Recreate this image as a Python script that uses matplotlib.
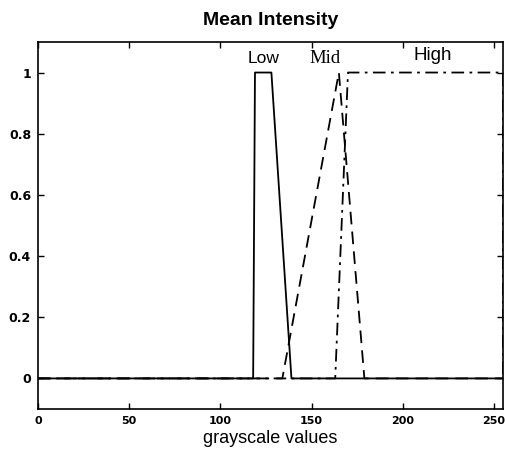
import matplotlib
matplotlib.use('Agg')
import matplotlib.pyplot as plt
import numpy as np

# membership function breakpoints (grayscale, membership)
low_x = [0, 118, 119, 128, 139, 255]
low_y = [0, 0, 1, 1, 0, 0]

mid_x = [0, 134, 165, 179, 255]
mid_y = [0, 0, 1, 0, 0]

high_x = [0, 163, 170, 255, 255]
high_y = [0, 0, 1, 1, 0]

xticks = [0, 50, 100, 150, 200, 250]
yticks = [0, 0.2, 0.4, 0.6, 0.8, 1]
ytick_labels = ['0', '0.2', '0.4', '0.6', '0.8', '1']

# label name, x, y, font family, size
mf_labels = [('Low', 123.5, 1.045, 'Liberation Sans', 12.5),
             ('Mid', 157.5, 1.045, 'Liberation Serif', 13.5),
             ('High', 216.5, 1.055, 'Liberation Sans', 13.5)]

fig = plt.figure(figsize=(5.05, 4.51), dpi=100)
ax = fig.add_axes([0.0752, 0.0931, 0.9208, 0.8139])

ax.plot(low_x, low_y, color='black', lw=1.3, linestyle='-')
ax.plot(mid_x, mid_y, color='black', lw=1.3, linestyle=(0, (7, 4)))
ax.plot(high_x, high_y, color='black', lw=1.3, linestyle=(0, (7, 3, 1.5, 3)))

for name, lx, ly, fam, fs in mf_labels:
    ax.text(lx, ly, name, ha='center', va='center', fontsize=fs, family=fam)

ax.set_xlim(0, 255)
ax.set_ylim(-0.1, 1.1)
ax.set_xticks(xticks)
ax.set_yticks(yticks)
ax.set_yticklabels(ytick_labels)
ax.tick_params(direction='in', top=True, right=True, length=4, width=1, pad=5)
ax.tick_params(axis='x', labelsize=8)
ax.tick_params(axis='y', labelsize=9)
for lab in ax.get_xticklabels() + ax.get_yticklabels():
    lab.set_fontweight('bold')
for sp in ax.spines.values():
    sp.set_linewidth(1.2)

ax.set_title('Mean Intensity', fontsize=14, fontweight='bold',
             family='Liberation Sans', pad=12)
ax.set_xlabel('grayscale values', fontsize=13, family='Liberation Sans', labelpad=3)

fig.savefig('out.png', dpi=100)
